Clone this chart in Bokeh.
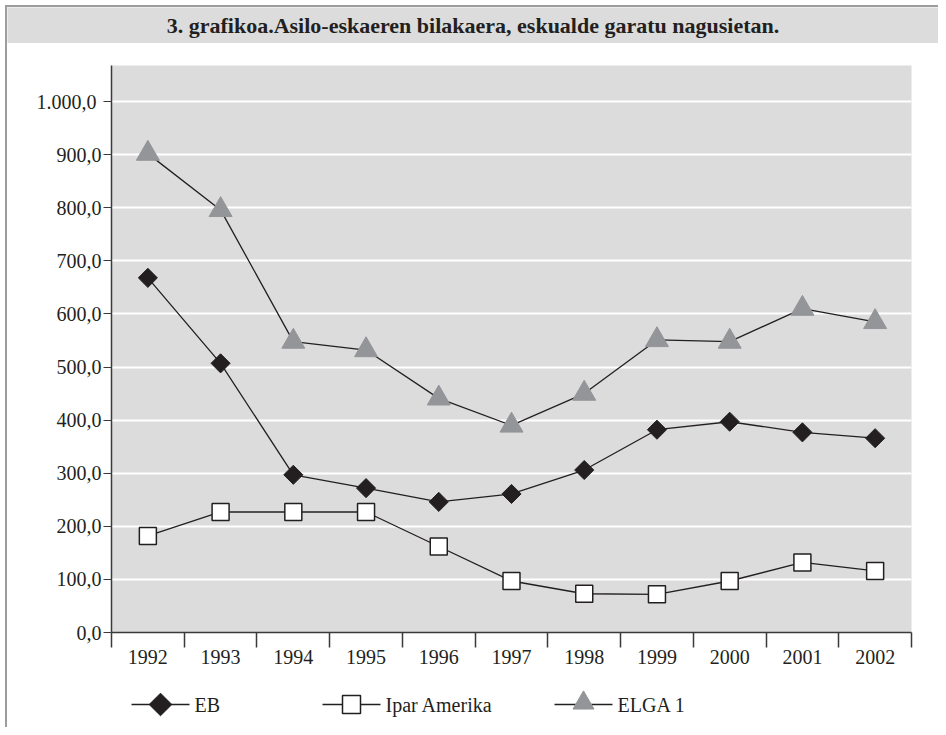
import math
from bokeh.plotting import figure
from bokeh.layouts import column
from bokeh.models import FixedTicker, ColumnDataSource, Range1d
from bokeh.core.properties import value
from bokeh.embed import file_html
from bokeh.resources import INLINE

TITLE = "3. grafikoa.Asilo-eskaeren bilakaera, eskualde garatu nagusietan."
YEARS = ["1992", "1993", "1994", "1995", "1996", "1997", "1998", "1999", "2000", "2001", "2002"]
EB = [668, 507, 297, 272, 246, 261, 306, 382, 397, 377, 366]
IPAR_AMERIKA = [182, 227, 227, 227, 162, 97, 73, 72, 97, 132, 116]
ELGA_1 = [902, 796, 548, 532, 441, 390, 450, 551, 548, 610, 585]
SERIES_NAMES = ["EB", "Ipar Amerika", "ELGA 1"]
Y_TICKS = [0, 100, 200, 300, 400, 500, 600, 700, 800, 900, 1000]
Y_LABELS = ["0,0", "100,0", "200,0", "300,0", "400,0", "500,0", "600,0",
            "700,0", "800,0", "900,0", "1.000,0\u00a0"]

FONT = "Liberation Serif"
INK = "#231f20"
GREY_BG = "#dcdcdd"
TRI = "#939598"
W = 931

# ---- title band ----
band = figure(width=W, height=36, x_range=(0, 1), y_range=(0, 1),
              toolbar_location=None, output_backend="svg", frame_align=False,
              min_border_left=0, min_border_right=0, min_border_top=0, min_border_bottom=0)
band.axis.visible = False
band.grid.visible = False
band.outline_line_color = None
band.background_fill_color = GREY_BG
band.border_fill_color = GREY_BG
band.text(x=[0.5], y=[0.5], text=[TITLE], text_font=value(FONT), text_font_style="bold",
          text_font_size="22px", text_align="center", text_baseline="middle", text_color=INK)

# ---- main chart ----
xs = [i + 0.5 for i in range(len(YEARS))]
p = figure(width=W, height=634, x_range=Range1d(0, len(YEARS)), y_range=Range1d(0, 1068),
           toolbar_location=None, output_backend="svg", frame_align=False,
           min_border_left=104, min_border_right=27, min_border_top=22, min_border_bottom=45)
p.background_fill_color = GREY_BG
p.border_fill_color = "white"
p.outline_line_color = None

p.xgrid.visible = False
p.ygrid.ticker = FixedTicker(ticks=Y_TICKS)
p.ygrid.grid_line_color = "white"
p.ygrid.grid_line_width = 2

yax = p.yaxis[0]
yax.ticker = FixedTicker(ticks=Y_TICKS)
yax.major_label_overrides = {t: l for t, l in zip(Y_TICKS, Y_LABELS)}
yax.major_tick_in = 0
yax.major_tick_out = 8
yax.minor_tick_out = 0
yax.minor_tick_in = 0
yax.axis_line_color = "#3a3a3a"
yax.axis_line_width = 1.5
yax.major_tick_line_color = "#3a3a3a"
yax.major_label_text_font = FONT
yax.major_label_text_font_size = "20px"
yax.major_label_text_color = INK
yax.major_label_text_baseline = "alphabetic"
yax.major_label_standoff = 2

xax = p.xaxis[0]
xax.ticker = FixedTicker(ticks=xs, minor_ticks=list(range(len(YEARS) + 1)))
xax.major_label_overrides = {x: y for x, y in zip(xs, YEARS)}
xax.major_tick_in = 0
xax.major_tick_out = 0
xax.minor_tick_in = 0
xax.minor_tick_out = 15
xax.minor_tick_line_color = "#3a3a3a"
xax.minor_tick_line_width = 1.5
xax.axis_line_color = "#3a3a3a"
xax.axis_line_width = 1.5
xax.major_label_text_font = FONT
xax.major_label_text_font_size = "20px"
xax.major_label_text_color = INK
xax.major_label_standoff = 2

styles = [
    dict(marker="square", angle=math.pi / 4, size=13.5, fill_color=INK, line_color=INK, line_width=1),
    dict(marker="square", angle=0, size=17, fill_color="white", line_color=INK, line_width=1.5),
    dict(marker="triangle", angle=0, size=23, fill_color=TRI, line_color=TRI, line_width=1),
]
for vals, st in zip([EB, IPAR_AMERIKA, ELGA_1], styles):
    src = ColumnDataSource(dict(x=xs, y=vals))
    p.line("x", "y", source=src, line_color=INK, line_width=1.3)
    p.scatter("x", "y", source=src, **st)

# ---- legend strip (pixel coordinates) ----
LEG_H = 50
leg = figure(width=W, height=LEG_H, x_range=Range1d(0, W), y_range=Range1d(0, LEG_H),
             toolbar_location=None, output_backend="svg", frame_align=False,
             min_border_left=0, min_border_right=0, min_border_top=0, min_border_bottom=0)
leg.axis.visible = False
leg.grid.visible = False
leg.outline_line_color = None
leg.background_fill_color = "white"
leg.border_fill_color = "white"

LEG_X = [124, 315, 547]      # left end of each legend key
LEG_Y = 23                   # key centre line
KEY_W = 58
TEXT_GAP = 5
leg_sizes = [16, 18, 21]
for name, x0, st, sz in zip(SERIES_NAMES, LEG_X, styles, leg_sizes):
    leg.segment(x0=[x0], y0=[LEG_Y], x1=[x0 + KEY_W], y1=[LEG_Y], line_color=INK, line_width=1.3)
    st2 = dict(st)
    st2["size"] = sz
    yoff = 1.5 if st["marker"] == "triangle" else 0
    leg.scatter(x=[x0 + KEY_W / 2], y=[LEG_Y + yoff], **st2)
    leg.text(x=[x0 + KEY_W + TEXT_GAP], y=[LEG_Y], text=[name], text_font=value(FONT),
             text_font_size="20px", text_align="left", text_baseline="middle", text_color=INK)

layout = column(band, p, leg, styles={"margin-left": "5px", "margin-top": "5px",
                                      "border-left": "2px solid #9d9d9d",
                                      "border-top": "2px solid #9d9d9d"})

open("out.html", "w").write(file_html(layout, INLINE))
